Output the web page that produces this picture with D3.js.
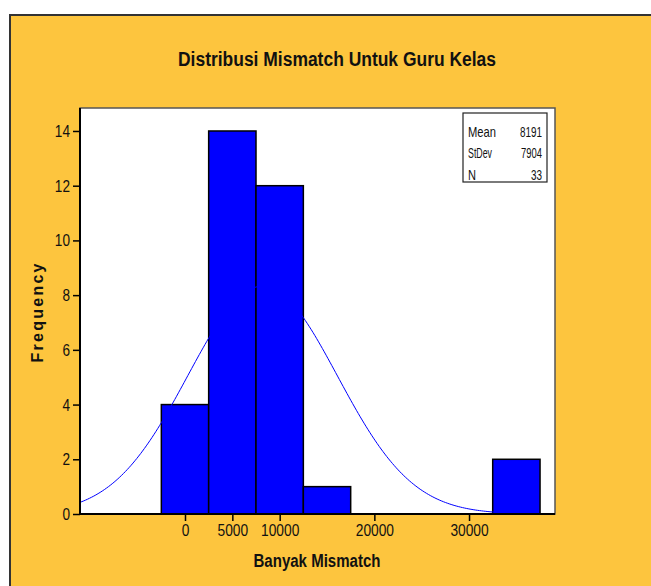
<!DOCTYPE html>
<html>
<head>
<meta charset="utf-8">
<script src="https://cdn.jsdelivr.net/npm/d3@7"></script>
<style>
  body { margin: 0; background: #fff; }
  text { font-family: "Liberation Sans", Arial, sans-serif; fill: #111; }
</style>
</head>
<body>
<div id="chart"></div>
<script>
// histogram bins (centre of each bin) and counts
var binCenters = [0, 5000, 10000, 15000, 20000, 25000, 30000, 35000];
var counts = [4, 14, 12, 1, 0, 0, 0, 2];
var binWidth = 5000;

var xTicks = [0, 5000, 10000, 20000, 30000];
var yTicks = [0, 2, 4, 6, 8, 10, 12, 14];

// summary stats shown in the box
var statLabels = ["Mean", "StDev", "N"];
var statValues = [8191, 7904, 33];

var W = 651, H = 586;
var plot = { left: 80, top: 108, right: 555, bottom: 514 };

var svg = d3.select("#chart").append("svg")
  .attr("width", W)
  .attr("height", H);

// squeeze text horizontally, the original uses a narrow font
function narrow(sel, k) {
  sel.each(function () {
    var w = this.getComputedTextLength();
    d3.select(this).attr("textLength", w * k).attr("lengthAdjust", "spacingAndGlyphs");
  });
}

// orange frame
svg.append("rect")
  .attr("x", 10).attr("y", 15)
  .attr("width", W + 20).attr("height", H + 20)
  .attr("fill", "#fdc53e")
  .attr("stroke", "#333")
  .attr("stroke-width", 2);

svg.append("text")
  .attr("x", 337).attr("y", 66)
  .attr("text-anchor", "middle")
  .attr("font-weight", "bold")
  .attr("font-size", 20)
  .attr("textLength", 318)
  .attr("lengthAdjust", "spacingAndGlyphs")
  .text("Distribusi Mismatch Untuk Guru Kelas");

// plot background
svg.append("rect")
  .attr("x", plot.left).attr("y", plot.top)
  .attr("width", plot.right - plot.left)
  .attr("height", plot.bottom - plot.top)
  .attr("fill", "#fff")
  .attr("stroke", "#555")
  .attr("stroke-width", 1.5);

var x = d3.scaleLinear()
  .domain([-11090, 39080])
  .range([plot.left, plot.right]);
var y = d3.scaleLinear()
  .domain([0, 14.84])
  .range([plot.bottom, plot.top]);

// bars
svg.append("g")
  .selectAll("rect")
  .data(binCenters)
  .join("rect")
  .filter(function (d, i) { return counts[i] > 0; })
  .attr("x", function (d) { return x(d - binWidth / 2); })
  .attr("y", function (d) { return y(counts[binCenters.indexOf(d)]); })
  .attr("width", function (d) { return x(d + binWidth / 2) - x(d - binWidth / 2); })
  .attr("height", function (d) { return plot.bottom - y(counts[binCenters.indexOf(d)]); })
  .attr("fill", "#0000ff")
  .attr("stroke", "#000")
  .attr("stroke-width", 1.5);

// fitted normal curve from the mean / stdev / N above
var mean = statValues[0], sd = statValues[1], n = statValues[2];
var xs = d3.range(x.domain()[0], x.domain()[1] + 1, 200);
var curve = d3.line()
  .x(function (v) { return x(v); })
  .y(function (v) {
    var z = (v - mean) / sd;
    return y(n * binWidth * Math.exp(-z * z / 2) / (sd * Math.sqrt(2 * Math.PI)));
  });
svg.append("path")
  .datum(xs)
  .attr("d", curve)
  .attr("fill", "none")
  .attr("stroke", "#0000ff")
  .attr("stroke-width", 1);

// axes
var xAxis = svg.append("g")
  .attr("transform", "translate(0," + plot.bottom + ")")
  .call(d3.axisBottom(x).tickValues(xTicks).tickSize(7).tickPadding(4).tickFormat(d3.format("d")));
xAxis.select(".domain").attr("stroke", "#000").attr("stroke-width", 2)
  .attr("d", "M" + plot.left + ",0H" + plot.right);
xAxis.selectAll("line").attr("stroke-width", 1.5);
xAxis.selectAll("text").attr("font-size", 16).attr("fill", "#111")
  .attr("font-family", "'Liberation Sans', sans-serif");
narrow(xAxis.selectAll("text"), 0.86);

var yAxis = svg.append("g")
  .attr("transform", "translate(" + plot.left + ",0)")
  .call(d3.axisLeft(y).tickValues(yTicks).tickSize(7).tickPadding(3));
yAxis.select(".domain").attr("stroke", "#000").attr("stroke-width", 2)
  .attr("d", "M0," + plot.top + "V" + plot.bottom);
yAxis.selectAll("line").attr("stroke-width", 1.5);
yAxis.selectAll("text").attr("font-size", 17).attr("fill", "#111")
  .attr("font-family", "'Liberation Sans', sans-serif");
narrow(yAxis.selectAll("text"), 0.8);

// axis titles
svg.append("text")
  .attr("x", 317).attr("y", 567)
  .attr("text-anchor", "middle")
  .attr("font-weight", "bold")
  .attr("font-size", 18)
  .attr("textLength", 127)
  .attr("lengthAdjust", "spacingAndGlyphs")
  .text("Banyak Mismatch");

svg.append("text")
  .attr("transform", "translate(43,313) rotate(-90)")
  .attr("text-anchor", "middle")
  .attr("font-weight", "bold")
  .attr("font-size", 16)
  .attr("textLength", 99)
  .attr("lengthAdjust", "spacing")
  .text("Frequency");

// stats box
var labelW = [28, 24, 8];
var valueW = [22, 21, 11];
var box = svg.append("g").attr("transform", "translate(463,113)");
box.append("rect")
  .attr("width", 84).attr("height", 69)
  .attr("fill", "#fff")
  .attr("stroke", "#222")
  .attr("stroke-width", 1.2);
statLabels.forEach(function (lab, i) {
  box.append("text")
    .attr("x", 5).attr("y", 23.5 + i * 21.5)
    .attr("font-size", 15)
    .attr("textLength", labelW[i])
    .attr("lengthAdjust", "spacingAndGlyphs")
    .text(lab);
  box.append("text")
    .attr("x", 79).attr("y", 23.5 + i * 21.5)
    .attr("text-anchor", "end")
    .attr("font-size", 15)
    .attr("textLength", valueW[i])
    .attr("lengthAdjust", "spacingAndGlyphs")
    .text(statValues[i]);
});
</script>
</body>
</html>
